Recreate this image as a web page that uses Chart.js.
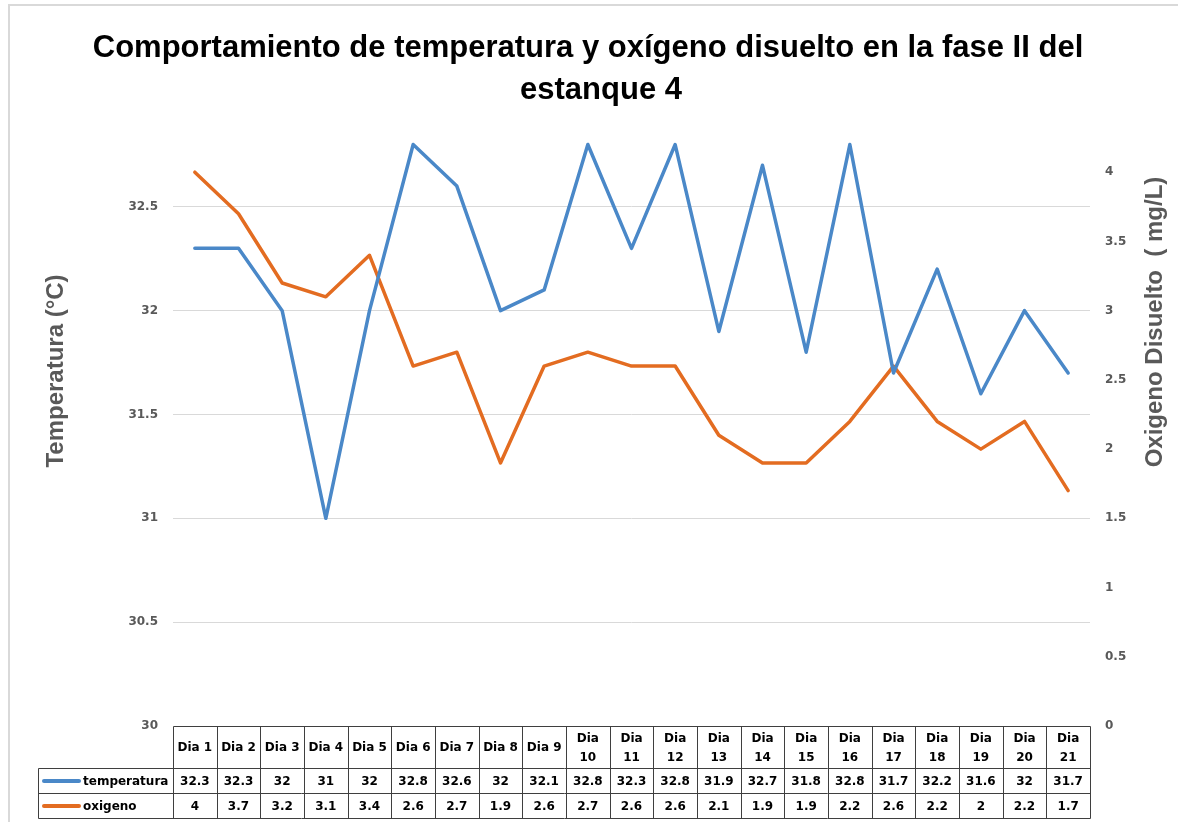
<!DOCTYPE html>
<html>
<head>
<meta charset="utf-8">
<script src="https://cdn.jsdelivr.net/npm/chart.js@4.4.1/dist/chart.umd.min.js"></script>
<style>
  html, body { margin: 0; padding: 0; background: #ffffff; }
  #wrap { position: relative; width: 1178px; height: 822px; }
</style>
</head>
<body>
<div id="wrap"><canvas id="c"></canvas></div>
<script>
// ---- Data ----
const categories = ["Dia 1","Dia 2","Dia 3","Dia 4","Dia 5","Dia 6","Dia 7","Dia 8","Dia 9","Dia 10","Dia 11","Dia 12","Dia 13","Dia 14","Dia 15","Dia 16","Dia 17","Dia 18","Dia 19","Dia 20","Dia 21"];
const temperatura = [32.3,32.3,32,31,32,32.8,32.6,32,32.1,32.8,32.3,32.8,31.9,32.7,31.8,32.8,31.7,32.2,31.6,32,31.7];
const oxigeno = [4,3.7,3.2,3.1,3.4,2.6,2.7,1.9,2.6,2.7,2.6,2.6,2.1,1.9,1.9,2.2,2.6,2.2,2,2.2,1.7];
const seriesNames = ["temperatura","oxigeno"];
const titleLines = ["Comportamiento de temperatura y oxígeno disuelto en la fase II del", "estanque 4"];
const leftAxisTitle = "Temperatura (°C)";
const rightAxisTitle = "Oxigeno Disuelto  ( mg/L)";

const BLUE = "#4A88C8";
const ORANGE = "#E36C21";
const AXIS_GREY = "#595959";

const decorPlugin = {
  id: "decor",
  afterDraw(chart) {
    const ctx = chart.ctx;
    const ca = chart.chartArea;
    ctx.save();
    // outer border (top & left visible)
    ctx.strokeStyle = "#D9D9D9";
    ctx.lineWidth = 2;
    ctx.strokeRect(9, 5, 1300, 1000);

    // title
    ctx.fillStyle = "#000000";
    ctx.font = "bold 31px 'Liberation Sans', Arial, sans-serif";
    ctx.textAlign = "center";
    ctx.textBaseline = "middle";
    ctx.fillText(titleLines[0], 588, 48);
    ctx.fillText(titleLines[1], 601, 90);

    // axis titles
    ctx.fillStyle = AXIS_GREY;
    ctx.font = "bold 24px 'Liberation Sans', Arial, sans-serif";
    ctx.save();
    ctx.translate(56, 371);
    ctx.rotate(-Math.PI / 2);
    ctx.fillText(leftAxisTitle, 0, 0);
    ctx.restore();
    ctx.save();
    ctx.translate(1155, 322);
    ctx.rotate(-Math.PI / 2);
    ctx.fillText(rightAxisTitle, 0, 0);
    ctx.restore();

    // data table
    const xs = chart.scales.x;
    const n = categories.length;
    const colW = (ca.right - ca.left) / n;
    const top = Math.round(ca.bottom) + 0.5;
    const hdrH = 42, rowH = 25;
    const r1 = top + hdrH, r2 = r1 + rowH, r3 = r2 + rowH;
    const legL = 38.5;
    const L = Math.round(ca.left) + 0.5, R = Math.round(ca.right) + 0.5;
    ctx.strokeStyle = "#3F3F3F";
    ctx.lineWidth = 1;
    ctx.beginPath();
    ctx.moveTo(L, top); ctx.lineTo(R, top);
    [r1, r2, r3].forEach(y => { ctx.moveTo(legL, y); ctx.lineTo(R, y); });
    ctx.moveTo(legL, r1); ctx.lineTo(legL, r3);
    for (let i = 0; i <= n; i++) {
      const x = Math.round(ca.left + i * colW) + 0.5;
      ctx.moveTo(x, top); ctx.lineTo(x, r3);
    }
    ctx.stroke();

    ctx.fillStyle = "#000000";
    ctx.font = "bold 12px 'DejaVu Sans', Verdana, sans-serif";
    ctx.textAlign = "center";
    ctx.textBaseline = "middle";
    for (let i = 0; i < n; i++) {
      const cx = xs.getPixelForValue(i);
      const lab = categories[i];
      if (ctx.measureText(lab).width > colW - 6) {
        const parts = lab.split(" ");
        ctx.fillText(parts[0], cx, top + 12);
        ctx.fillText(parts.slice(1).join(" "), cx, top + 31);
      } else {
        ctx.fillText(lab, cx, top + hdrH / 2);
      }
      ctx.fillText(String(temperatura[i]), cx, r1 + rowH / 2 + 0.5);
      ctx.fillText(String(oxigeno[i]), cx, r2 + rowH / 2 + 0.5);
    }
    // legend keys
    const rows = [[r1, BLUE, seriesNames[0]], [r2, ORANGE, seriesNames[1]]];
    rows.forEach(([y, col, name]) => {
      const cy = y + rowH / 2;
      ctx.strokeStyle = col;
      ctx.lineWidth = 4;
      ctx.lineCap = "round";
      ctx.beginPath();
      ctx.moveTo(44, cy); ctx.lineTo(79, cy);
      ctx.stroke();
      ctx.fillStyle = "#000000";
      ctx.textAlign = "left";
      ctx.fillText(name, 83, cy + 0.5);
    });
    ctx.restore();
  }
};

const tickFont = { family: "'DejaVu Sans', Verdana, sans-serif", size: 12, weight: "bold" };

new Chart(document.getElementById("c"), {
  type: "line",
  data: {
    labels: categories,
    datasets: [
      { label: seriesNames[0], data: temperatura, yAxisID: "y", borderColor: BLUE, backgroundColor: BLUE,
        borderWidth: 3.5, pointRadius: 0, tension: 0, borderJoinStyle: "round", borderCapStyle: "round" },
      { label: seriesNames[1], data: oxigeno, yAxisID: "y1", borderColor: ORANGE, backgroundColor: ORANGE,
        borderWidth: 3.5, pointRadius: 0, tension: 0, borderJoinStyle: "round", borderCapStyle: "round" }
    ]
  },
  options: {
    responsive: true,
    maintainAspectRatio: false,
    animation: false,
    layout: { padding: { top: 103, bottom: 96, left: 0, right: 0 } },
    plugins: { legend: { display: false }, title: { display: false }, tooltip: { enabled: false } },
    scales: {
      x: { type: "category", display: false, offset: true },
      y: {
        position: "left", min: 30, max: 33,
        ticks: { stepSize: 0.5, padding: 15, color: AXIS_GREY, font: tickFont,
                 callback: v => (v >= 33 ? "" : String(v)) },
        grid: { drawTicks: false, lineWidth: 1,
                color: c => (c.tick && c.tick.value > 30 && c.tick.value < 33 ? "#D9D9D9" : "rgba(0,0,0,0)") },
        border: { display: false },
        afterFit: s => { s.width = 173; }
      },
      y1: {
        position: "right", min: 0, max: 4.5,
        ticks: { stepSize: 0.5, padding: 15, color: AXIS_GREY, font: tickFont,
                 callback: v => (v >= 4.5 ? "" : String(v)) },
        grid: { display: false, drawTicks: false },
        border: { display: false },
        afterFit: s => { s.width = 88; }
      }
    }
  },
  plugins: [decorPlugin]
});
</script>
</body>
</html>
